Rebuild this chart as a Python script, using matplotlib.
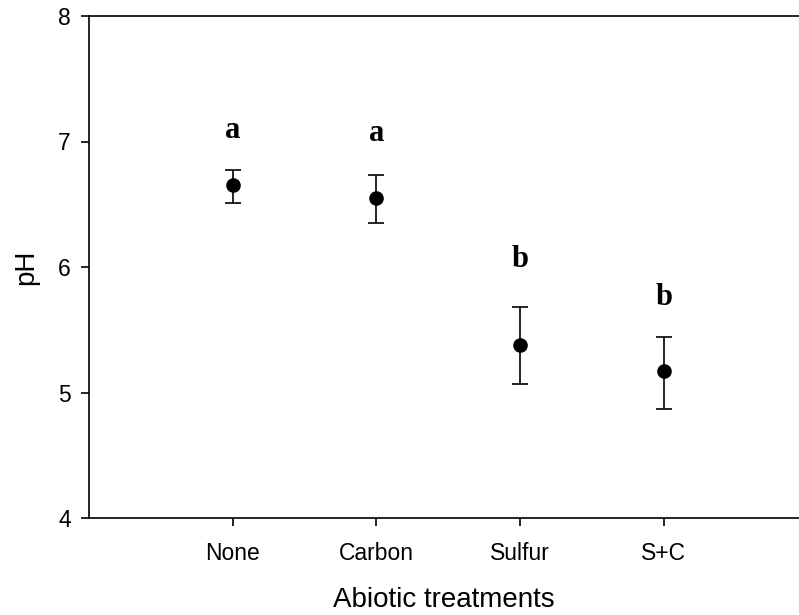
import matplotlib.pyplot as plt

treatments = ["None", "Carbon", "Sulfur", "S+C"]
ph_mean = [6.65, 6.55, 5.38, 5.17]
err_low = [0.14, 0.20, 0.31, 0.30]
err_high = [0.12, 0.18, 0.30, 0.27]
letters = ["a", "a", "b", "b"]
letter_y = [7.09, 7.06, 6.06, 5.76]

fig = plt.figure(figsize=(7.99, 6.15), dpi=100)
ax = fig.add_axes([89 / 799, 1 - 518 / 615, 1 - 89 / 799, (518 - 16) / 615])

x = range(1, len(treatments) + 1)
ax.errorbar(x, ph_mean, yerr=[err_low, err_high], fmt="o", color="black",
            markersize=9.5, capsize=6, elinewidth=1.2, capthick=1.2)

# significance letters
for xi, lab, ly in zip(x, letters, letter_y):
    ax.text(xi, ly, lab, ha="center", va="center", fontsize=22,
            fontweight="bold", family="Liberation Serif")

ax.set_xlim(0, 4.94)
ax.set_ylim(4, 8)
ax.set_yticks([4, 5, 6, 7, 8])
ax.set_xticks(list(x))
ax.set_xticklabels(treatments)

ax.spines["right"].set_visible(False)
for s in ["left", "bottom", "top"]:
    ax.spines[s].set_linewidth(1.2)
ax.tick_params(direction="out", length=6, width=1.2, labelsize=16.5)
ax.tick_params(axis="x", pad=11)
ax.tick_params(axis="y", pad=7)
for lbl in ax.get_xticklabels() + ax.get_yticklabels():
    lbl.set_family("Liberation Sans")

ax.set_xlabel("Abiotic treatments", fontsize=20, family="Liberation Sans", labelpad=16)
ax.set_ylabel("pH", fontsize=20, family="Liberation Sans", labelpad=14)

fig.savefig("out.png", dpi=100)
